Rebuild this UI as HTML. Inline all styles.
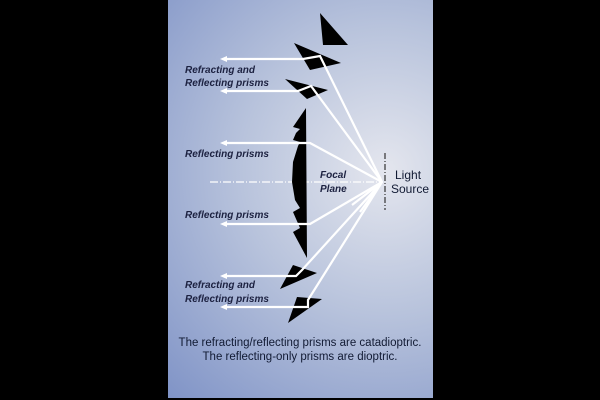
<!DOCTYPE html>
<html><head><style>
html,body{margin:0;padding:0;background:#000;width:600px;height:400px;overflow:hidden}
svg{display:block}
.l{font-family:"Liberation Sans",sans-serif;font-style:italic;font-weight:bold;font-size:10px;fill:#1c2140}
.n{font-family:"Liberation Sans",sans-serif;font-size:11.5px;fill:#111a33}
.s{font-family:"Liberation Sans",sans-serif;font-size:12px;fill:#111a33}
</style></head><body>
<svg width="600" height="400" viewBox="0 0 600 400">
<defs>
<radialGradient id="g" cx="385" cy="170" r="320" gradientUnits="userSpaceOnUse">
<stop offset="0" stop-color="#e4e6ee"/>
<stop offset="0.45" stop-color="#b8c3dc"/>
<stop offset="1" stop-color="#7e92c6"/>
</radialGradient>
</defs>
<rect x="0" y="0" width="600" height="400" fill="#000"/>
<rect x="168" y="0" width="265" height="398" fill="url(#g)"/>
<line x1="385" y1="153" x2="385" y2="210" stroke="#333" stroke-width="1.2" stroke-dasharray="6,2,1,2"/>
<line x1="210" y1="182" x2="383" y2="182" stroke="#fff" stroke-width="1.2" stroke-dasharray="8,2,1,2"/>
<g fill="#000">
<polygon points="320,13 323,45 348,45"/>
<polygon points="294,43 341,63 310,70"/>
<polygon points="285,79 328,90 307,99"/>
<polygon points="306,108 307,258 293,232 300,228 293,212 300,208 295,200 292,182 293,162 298,146 300,142 293,140 296,133 300,129 293,127"/>
<polygon points="293,265 317,273 280,289"/>
<polygon points="297,297 322,299 288,323"/>
</g>
<g stroke="#fff" stroke-width="2.2" fill="none">
<polyline points="382,182 320,56 303,59 224,59"/>
<polyline points="382,182 311,86 298,91 224,91"/>
<polyline points="382,182 310,143 224,143"/>
<polyline points="382,182 310,224 224,224"/>
<polyline points="382,182 302,270 296,276 224,276"/>
<polyline points="382,182 308,300 308,307 224,307"/>
<line x1="382" y1="182" x2="352" y2="205"/>
<line x1="382" y1="182" x2="360" y2="212"/>
</g>
<g fill="#fff">
<polygon points="220,59 227,56 227,62"/>
<polygon points="220,91 227,88 227,94"/>
<polygon points="220,143 227,140 227,146"/>
<polygon points="220,224 227,221 227,227"/>
<polygon points="220,276 227,273 227,279"/>
<polygon points="220,307 227,304 227,310"/>
</g>
<text class="l" x="185" y="73">Refracting and</text>
<text class="l" x="185" y="86">Reflecting prisms</text>
<text class="l" x="185" y="157">Reflecting prisms</text>
<text class="l" x="320" y="178">Focal</text>
<text class="l" x="320" y="192">Plane</text>
<text class="s" x="395" y="179">Light</text>
<text class="s" x="391" y="193">Source</text>
<text class="l" x="185" y="218">Reflecting prisms</text>
<text class="l" x="185" y="288">Refracting and</text>
<text class="l" x="185" y="302">Reflecting prisms</text>
<text class="n" x="300" y="346" text-anchor="middle">The refracting/reflecting prisms are catadioptric.</text>
<text class="n" x="300" y="360" text-anchor="middle">The reflecting-only prisms are dioptric.</text>
</svg>
</body></html>
